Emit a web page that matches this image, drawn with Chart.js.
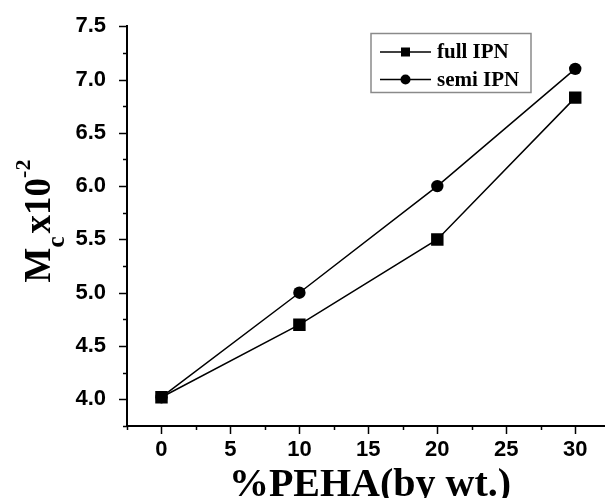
<!DOCTYPE html>
<html>
<head>
<meta charset="utf-8">
<script src="https://cdn.jsdelivr.net/npm/chart.js@4/dist/chart.umd.min.js"></script>
<style>
  html, body { margin: 0; padding: 0; background: #fff; overflow: hidden; }
</style>
</head>
<body>
<canvas id="myChart" width="613" height="498"></canvas>
<script>
const pehaPercent = [0, 10, 20, 30];
const fullIPN = [4.02, 4.70, 5.50, 6.83];
const semiIPN = [4.02, 5.00, 6.00, 7.10];
const xTickValues = [0, 5, 10, 15, 20, 25, 30];
const yTickValues = [4.0, 4.5, 5.0, 5.5, 6.0, 6.5, 7.0, 7.5];

const seriesNames = ["full IPN", "semi IPN"];

// small ticks, title and the boxed legend are drawn by hand
const decorations = {
  id: "decorations",
  afterDraw(chart) {
    const c = chart.ctx;
    const xs = chart.scales.x;
    const ys = chart.scales.y;
    const area = chart.chartArea;
    c.save();
    c.strokeStyle = "#000";
    c.lineWidth = 1.5;

    // x ticks (major every 5, minor every 2.5)
    for (let v = -2.5; v <= xs.max + 0.01; v += 2.5) {
      const px = Math.round(xs.getPixelForValue(v)) + 0.5;
      const len = v % 5 === 0 ? 8 : 4;
      c.beginPath();
      c.moveTo(px, area.bottom);
      c.lineTo(px, area.bottom + len);
      c.stroke();
    }
    // y ticks (major every 0.5, minor every 0.25)
    for (let v = 3.75; v <= 7.5 + 0.001; v += 0.25) {
      const py = Math.round(ys.getPixelForValue(v)) + 0.5;
      const major = Math.abs(v * 2 - Math.round(v * 2)) < 0.001;
      c.beginPath();
      c.moveTo(area.left, py);
      c.lineTo(area.left - (major ? 8 : 4), py);
      c.stroke();
    }

    // x title
    c.fillStyle = "#000";
    c.font = "bold 40px 'Liberation Serif'";
    c.textAlign = "center";
    c.textBaseline = "alphabetic";
    c.fillText("%PEHA(by wt.)", (area.left + 613) / 2, 496);

    // y title: M_c x10^-2, rotated
    c.save();
    c.translate(50, 221);
    c.rotate(-Math.PI / 2);
    c.textAlign = "left";
    const parts = [
      { t: "M", f: "bold 37px 'Liberation Serif'", dy: 0 },
      { t: "c", f: "bold 25px 'Liberation Serif'", dy: 14 },
      { t: "x10", f: "bold 37px 'Liberation Serif'", dy: 0 },
      { t: "-2", f: "bold 22px 'Liberation Serif'", dy: -20 },
    ];
    let total = 0;
    parts.forEach((p) => { c.font = p.f; p.w = c.measureText(p.t).width; total += p.w; });
    total += 3;
    let cx = -total / 2;
    parts.forEach((p, i) => {
      c.font = p.f;
      c.fillText(p.t, cx, p.dy);
      cx += p.w + (i === 1 ? 3 : 0);
    });
    c.restore();

    // legend box
    c.strokeStyle = "#8a8a8a";
    c.lineWidth = 1.5;
    c.strokeRect(371, 33.5, 160, 59);
    const rows = [
      { y: 52, style: "rect" },
      { y: 79.5, style: "circle" },
    ];
    rows.forEach((r, i) => {
      c.strokeStyle = "#000";
      c.lineWidth = 1.5;
      c.beginPath();
      c.moveTo(380, r.y);
      c.lineTo(431, r.y);
      c.stroke();
      c.fillStyle = "#000";
      if (r.style === "rect") {
        c.fillRect(401, r.y - 4.5, 9, 9);
      } else {
        c.beginPath();
        c.arc(405.5, r.y, 5, 0, Math.PI * 2);
        c.fill();
      }
      c.font = "bold 21px 'Liberation Serif'";
      c.textAlign = "left";
      c.textBaseline = "middle";
      c.fillText(seriesNames[i], 437, r.y + 1);
    });
    c.restore();
  },
};

const ctx = document.getElementById("myChart").getContext("2d");

const mcChart = new Chart(ctx, {
  type: "line",
  data: {
    datasets: [
      {
        label: seriesNames[0],
        data: pehaPercent.map((x, i) => ({ x: x, y: fullIPN[i] })),
        borderColor: "#000",
        backgroundColor: "#000",
        borderWidth: 1.5,
        pointStyle: "rect",
        pointRadius: 8.8,
        pointBorderWidth: 0,
        tension: 0,
      },
      {
        label: seriesNames[1],
        data: pehaPercent.map((x, i) => ({ x: x, y: semiIPN[i] })),
        borderColor: "#000",
        backgroundColor: "#000",
        borderWidth: 1.5,
        pointStyle: "circle",
        pointRadius: 6.2,
        pointBorderWidth: 0,
        tension: 0,
      },
    ],
  },
  options: {
    responsive: false,
    devicePixelRatio: 1,
    animation: false,
    layout: {
      padding: { top: 24, left: 0, right: 0, bottom: 0 },
    },
    plugins: {
      legend: { display: false },
      tooltip: { enabled: false },
    },
    scales: {
      x: {
        type: "linear",
        min: -2.5,
        max: 32.1,
        afterFit: (scale) => { scale.height = 72; },
        afterBuildTicks: (scale) => {
          scale.ticks = xTickValues.map((v) => ({ value: v }));
        },
        grid: { display: false },
        border: { display: true, color: "#000", width: 2 },
        ticks: {
          color: "#000",
          padding: 3,
          font: { family: "'Liberation Sans'", size: 22, weight: "bold" },
          callback: (v) => String(v),
        },
      },
      y: {
        type: "linear",
        min: 3.75,
        max: 7.5,
        afterFit: (scale) => { scale.width = 127; },
        afterBuildTicks: (scale) => {
          scale.ticks = yTickValues.map((v) => ({ value: v }));
        },
        grid: { display: false },
        border: { display: true, color: "#000", width: 2 },
        ticks: {
          color: "#000",
          padding: 13,
          font: { family: "'Liberation Sans'", size: 22, weight: "bold" },
          callback: (v) => Number(v).toFixed(1),
        },
      },
    },
  },
  plugins: [decorations],
});
</script>
</body>
</html>
